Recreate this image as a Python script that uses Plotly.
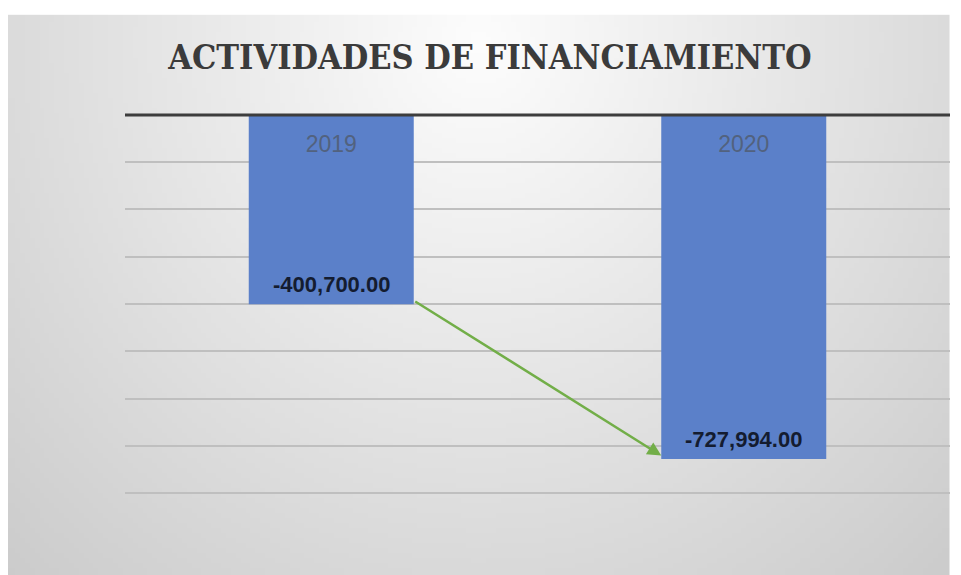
import base64, struct, zlib
import numpy as np
import plotly.graph_objects as go

# ---- data ----
categories = ["2019", "2020"]
values = [-400700.00, -727994.00]
labels = [f"{v:,.2f}" for v in values]
gridvals = [-800000, -700000, -600000, -500000, -400000, -300000, -200000, -100000]
baseline = 0
title_text = "ACTIVIDADES DE FINANCIAMIENTO"

# page body has an 8px margin; compensate
OFF = 8
W, H = 961 - OFF, 575 - OFF

# ---- background gradient image (style only) ----
def make_png(w, h):
    xs = np.linspace(7, 950, w)
    ys = np.linspace(15, 575, h)
    X, Y = np.meshgrid(xs, ys)
    d = np.sqrt(((X - 480) / 560.0) ** 2 + ((Y - 40) / 600.0) ** 2)
    c = np.clip(253 - 40 * d, 200, 253).astype(np.uint8)
    raw = b"".join(b"\x00" + bytes(np.repeat(row, 3)) for row in c)
    def chunk(t, data):
        return struct.pack(">I", len(data)) + t + data + struct.pack(">I", zlib.crc32(t + data) & 0xffffffff)
    png = b"\x89PNG\r\n\x1a\n" + chunk(b"IHDR", struct.pack(">IIBBBBB", w, h, 8, 2, 0, 0, 0)) \
        + chunk(b"IDAT", zlib.compress(raw, 9)) + chunk(b"IEND", b"")
    return "data:image/png;base64," + base64.b64encode(png).decode()

# target page coordinates of the plot area (range padded so edge lines are drawn)
PAD = 4000
scale = 378 / 800000
L, R = 124.5 - OFF, 950.5 - OFF
T, B = 115 - PAD * scale - OFF, 493 + PAD * scale - OFF
pw, ph = R - L, B - T

fig = go.Figure()
fig.add_trace(go.Bar(
    x=categories, y=values,
    marker=dict(color="#5b80c9", line=dict(width=0)),
    width=0.4,
    hoverinfo="skip",
))

for i, (v, t) in enumerate(zip(values, labels)):
    fig.add_annotation(
        x=i, y=v, xref="x", yref="y", text=t, showarrow=False,
        yanchor="middle", yshift=20,
        font=dict(family="Liberation Sans, Arial", size=22, color="#141c30", weight="bold"),
    )

half = 0.2
fig.add_annotation(
    x=1 - half, y=values[1] * 0.99, xref="x", yref="y",
    ax=0 + half, ay=values[0] * 0.98, axref="x", ayref="y",
    showarrow=True, arrowhead=2, arrowsize=1.1, arrowwidth=2.5,
    arrowcolor="#72ae48", text="",
)

# dark axis baseline at zero (drawn over the bars, as in the original)
fig.add_shape(type="line", xref="paper", yref="y", x0=0, x1=1, y0=baseline, y1=baseline,
              line=dict(color="#3d3d3d", width=3), layer="above")

fig.add_layout_image(dict(
    source=make_png(192, 112), xref="paper", yref="paper",
    x=(7 - OFF - L) / pw, y=(B - (15 - OFF)) / ph, sizex=943 / pw, sizey=560 / ph,
    xanchor="left", yanchor="top", sizing="stretch", layer="below",
))

fig.update_layout(
    width=W, height=H,
    margin=dict(l=L, r=W - R, t=T, b=H - B, pad=0),
    paper_bgcolor="white", plot_bgcolor="rgba(0,0,0,0)",
    showlegend=False,
    bargap=0.6,
    title=dict(text=title_text, x=(490 - OFF) / W, xref="container", xanchor="center",
               y=1 - (57 - OFF) / H, yref="container", yanchor="middle",
               font=dict(family="DejaVu Serif Condensed, DejaVu Serif", size=34,
                         color="#3b3b3b", weight="bold")),
    xaxis=dict(type="category", range=[-0.5, 1.5], side="top",
               ticklabelposition="inside", ticks="", showline=False, showgrid=False,
               ticklabelstandoff=20,
               tickfont=dict(family="Liberation Sans, Arial", size=23, color="#52627e")),
    yaxis=dict(range=[-800000 - PAD, PAD], tickvals=gridvals,
               showticklabels=False, ticks="",
               showgrid=True, gridcolor="#bfbfbf", gridwidth=2,
               zeroline=False, showline=False),
)

fig.write_html("out.html")
